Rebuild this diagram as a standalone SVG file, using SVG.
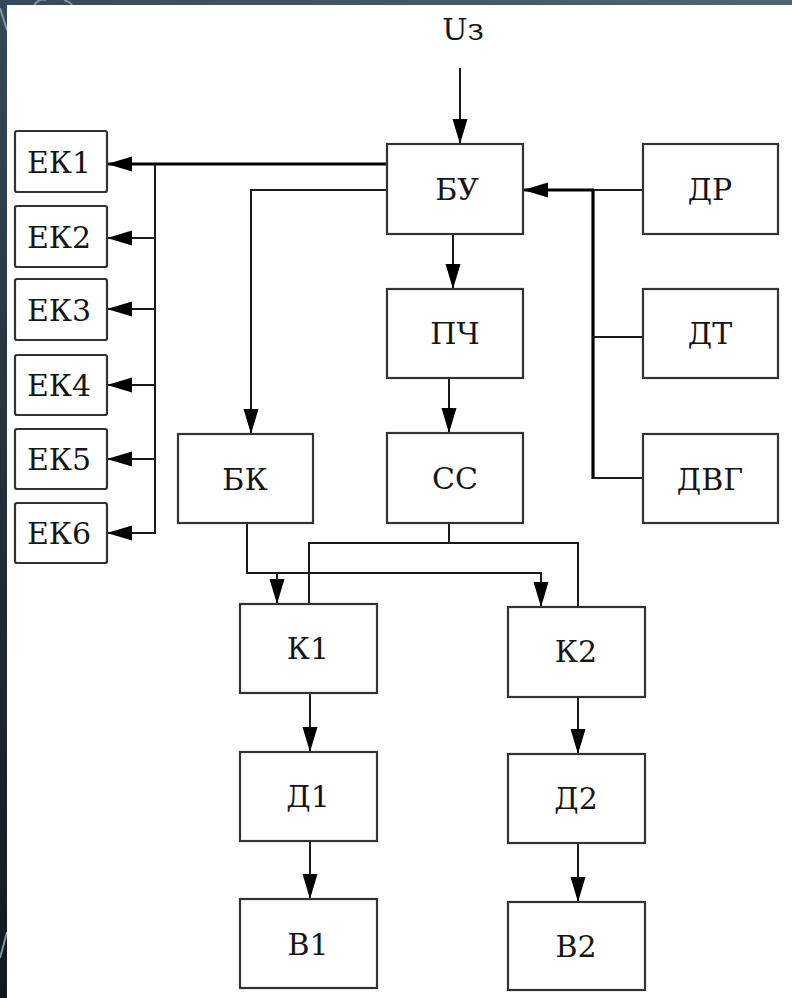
<svg xmlns="http://www.w3.org/2000/svg" width="792" height="998" viewBox="0 0 792 998">
<defs>
<linearGradient id="bgL" x1="0" y1="0" x2="0" y2="1">
<stop offset="0" stop-color="#36495a"/>
<stop offset="0.5" stop-color="#223039"/>
<stop offset="1" stop-color="#131820"/>
</linearGradient>
<linearGradient id="bgT" x1="0" y1="0" x2="1" y2="0">
<stop offset="0" stop-color="#36495a"/>
<stop offset="1" stop-color="#4f6670"/>
</linearGradient>
<marker id="arr" markerUnits="userSpaceOnUse" markerWidth="25" markerHeight="16" refX="25" refY="8" orient="auto">
<path d="M0,0.5 L25,8 L0,15.5 z" fill="#000"/>
</marker>
</defs>
<style>
.box{fill:#fff;stroke:#333;stroke-width:2.2}
.ln{fill:none;stroke:#1a1a1a;stroke-width:2}
.thk{fill:none;stroke:#000;stroke-width:3.2}
.deco{fill:none;stroke:#7e97a6;stroke-width:2}
text{font-family:'DejaVu Serif','Liberation Serif',serif;font-size:30px;fill:#151515;text-anchor:middle}
</style>
<rect x="0" y="0" width="792" height="998" fill="url(#bgL)"/>
<rect x="0" y="0" width="792" height="5" fill="url(#bgT)"/>
<path class="deco" d="M0,8 L7,30"/>
<path class="deco" d="M34,5 Q40,-2 46,0 M64,0 Q70,2 72,5"/>
<path class="deco" d="M0,958 L7,932"/>
<rect x="7" y="5" width="785" height="993" fill="#fff"/>

<g id="connectors">
<line class="ln" x1="460" y1="68" x2="460" y2="144" marker-end="url(#arr)"/>
<polyline class="thk" points="387,164 155,164"/>
<line class="thk" x1="155" y1="164" x2="107" y2="164" marker-end="url(#arr)"/>
<line class="ln" x1="155" y1="164" x2="155" y2="533"/>
<line class="ln" x1="155" y1="238" x2="107" y2="238" marker-end="url(#arr)"/>
<line class="ln" x1="155" y1="309" x2="107" y2="309" marker-end="url(#arr)"/>
<line class="ln" x1="155" y1="385" x2="107" y2="385" marker-end="url(#arr)"/>
<line class="ln" x1="155" y1="459" x2="107" y2="459" marker-end="url(#arr)"/>
<line class="ln" x1="156" y1="533" x2="107" y2="533" marker-end="url(#arr)"/>
<polyline class="ln" points="387,190 251,190 251,434" marker-end="url(#arr)"/>
<line class="ln" x1="453" y1="234" x2="453" y2="289" marker-end="url(#arr)"/>
<line class="ln" x1="449" y1="378" x2="449" y2="433" marker-end="url(#arr)"/>
<line class="ln" x1="643" y1="190" x2="593" y2="190"/>
<line class="thk" x1="594" y1="190" x2="523" y2="190" marker-end="url(#arr)"/>
<line class="thk" x1="593" y1="190" x2="593" y2="479"/>
<line class="ln" x1="643" y1="337" x2="593" y2="337"/>
<line class="ln" x1="643" y1="478" x2="593" y2="478"/>
<polyline class="ln" points="247,523 247,573 541,573 541,607" marker-end="url(#arr)"/>
<line class="ln" x1="277" y1="573" x2="277" y2="604" marker-end="url(#arr)"/>
<line class="ln" x1="449" y1="523" x2="449" y2="543"/>
<polyline class="ln" points="309,604 309,543 578,543 578,607"/>
<line class="ln" x1="310" y1="693" x2="310" y2="752" marker-end="url(#arr)"/>
<line class="ln" x1="578" y1="697" x2="578" y2="754" marker-end="url(#arr)"/>
<line class="ln" x1="310" y1="841" x2="310" y2="899" marker-end="url(#arr)"/>
<line class="ln" x1="578" y1="843" x2="578" y2="902" marker-end="url(#arr)"/>
</g>

<text x="463" y="40">Uз</text>
<g id="EK1"><rect class="box" x="15" y="131" width="92" height="61" rx="2"/><text x="59" y="173">ЕК1</text></g>
<g id="EK2"><rect class="box" x="15" y="206" width="92" height="61" rx="2"/><text x="59" y="248">ЕК2</text></g>
<g id="EK3"><rect class="box" x="15" y="279" width="92" height="61" rx="2"/><text x="59" y="321">ЕК3</text></g>
<g id="EK4"><rect class="box" x="15" y="355" width="92" height="60" rx="2"/><text x="59" y="396">ЕК4</text></g>
<g id="EK5"><rect class="box" x="15" y="429" width="92" height="60" rx="2"/><text x="59" y="470">ЕК5</text></g>
<g id="EK6"><rect class="box" x="15" y="503" width="92" height="60" rx="2"/><text x="59" y="544">ЕК6</text></g>
<g id="BU"><rect class="box" x="387" y="144" width="136" height="90"/><text x="457" y="200">БУ</text></g>
<g id="PCh"><rect class="box" x="387" y="289" width="136" height="89"/><text x="455" y="344">ПЧ</text></g>
<g id="SS"><rect class="box" x="387" y="433" width="136" height="90"/><text x="455" y="489">СС</text></g>
<g id="BK"><rect class="box" x="178" y="434" width="135" height="89"/><text x="245" y="490">БК</text></g>
<g id="DR"><rect class="box" x="643" y="144" width="135" height="90"/><text x="710" y="200">ДР</text></g>
<g id="DT"><rect class="box" x="643" y="289" width="135" height="89"/><text x="710" y="344">ДТ</text></g>
<g id="DVG"><rect class="box" x="643" y="434" width="135" height="89"/><text x="710" y="490">ДВГ</text></g>
<g id="K1"><rect class="box" x="240" y="604" width="137" height="89"/><text x="308" y="659">К1</text></g>
<g id="K2"><rect class="box" x="508" y="607" width="137" height="90"/><text x="576" y="662">К2</text></g>
<g id="D1"><rect class="box" x="240" y="752" width="137" height="89"/><text x="308" y="807">Д1</text></g>
<g id="D2"><rect class="box" x="508" y="754" width="137" height="89"/><text x="576" y="809">Д2</text></g>
<g id="B1"><rect class="box" x="240" y="899" width="137" height="89"/><text x="308" y="955">В1</text></g>
<g id="B2"><rect class="box" x="508" y="902" width="137" height="88"/><text x="576" y="957">В2</text></g>
</svg>
